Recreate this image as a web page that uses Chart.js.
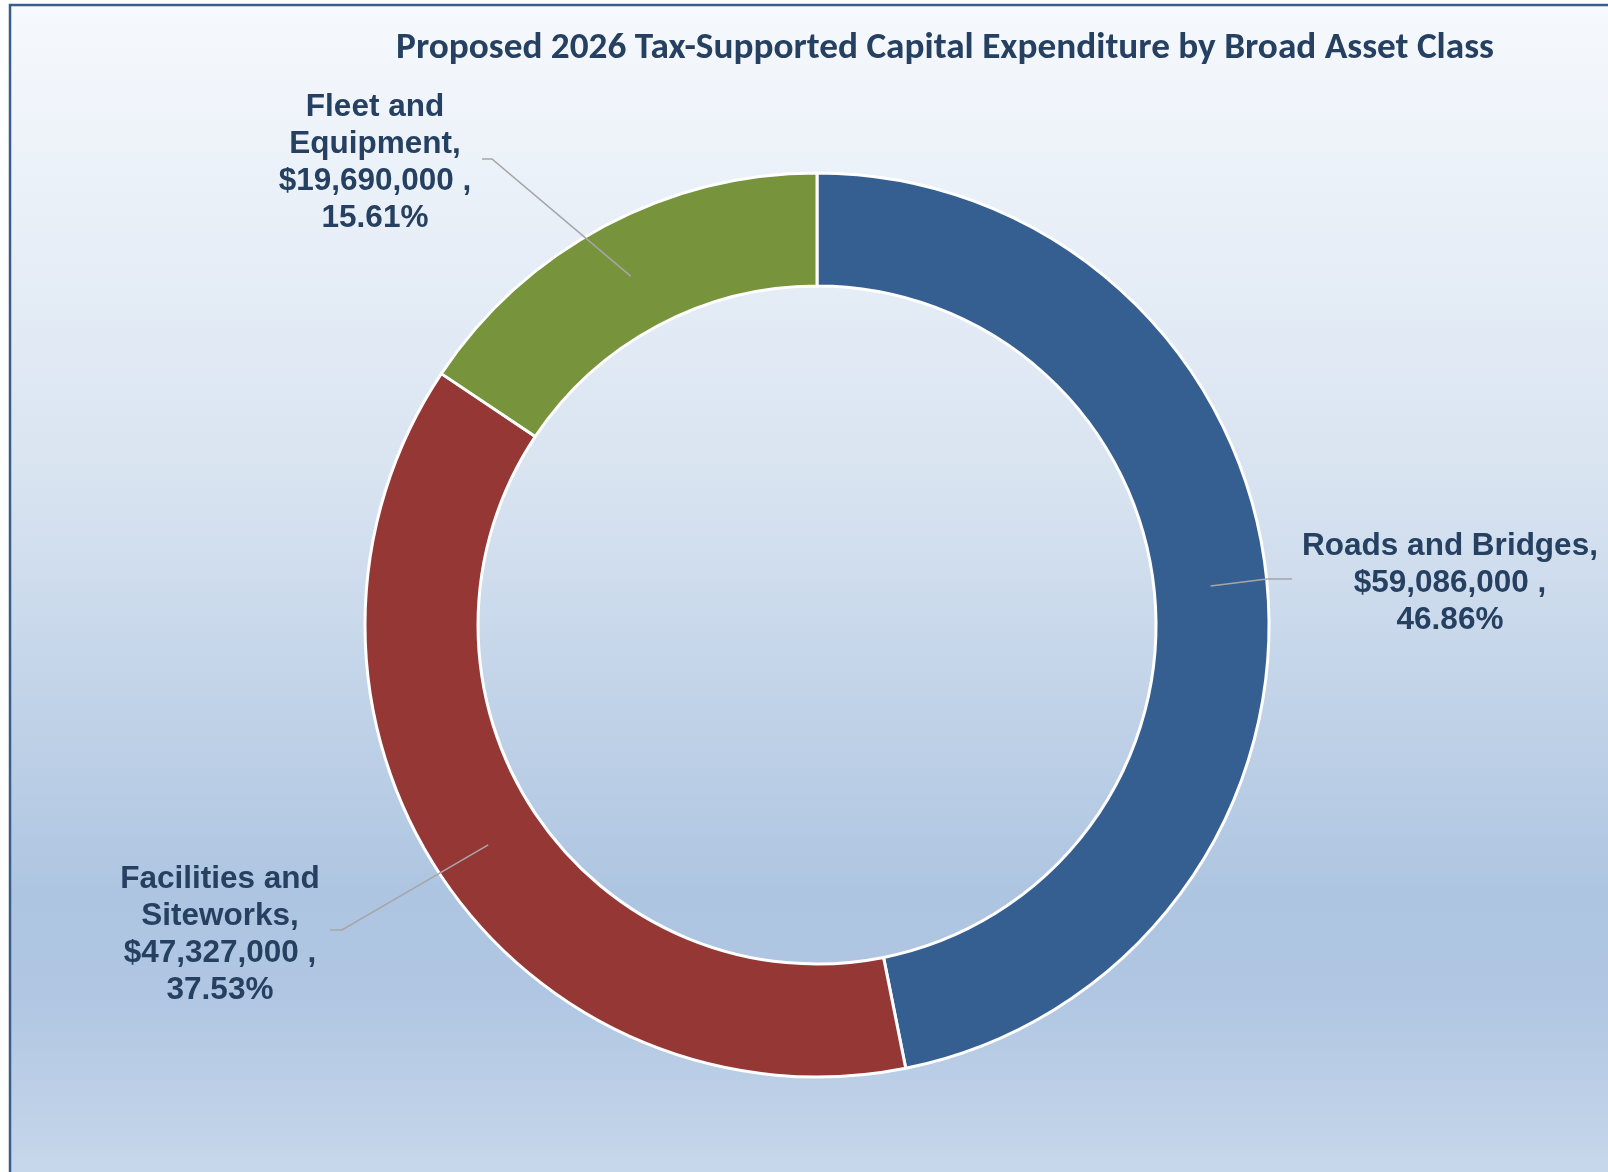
<!DOCTYPE html>
<html>
<head>
<meta charset="utf-8">
<script src="https://cdn.jsdelivr.net/npm/chart.js@4.4.1/dist/chart.umd.min.js"></script>
<style>
  html, body { margin: 0; padding: 0; background: #ffffff; }
  canvas { display: block; }
</style>
</head>
<body>
<canvas id="chart" width="1608" height="1172"></canvas>
<script>
// Asset classes, in drawing order (clockwise from 12 o'clock)
const categories = ['Roads and Bridges', 'Facilities and Siteworks', 'Fleet and Equipment'];
// Label text split over lines, per asset class
const labelLines = [['Roads and Bridges,'], ['Facilities and', 'Siteworks,'], ['Fleet and', 'Equipment,']];
// Proposed 2026 tax-supported capital expenditure ($)
const amounts = [59086000, 47327000, 19690000];
const sliceColors = ['#365F91', '#953735', '#77933C'];

const titleText = 'Proposed 2026 Tax-Supported Capital Expenditure by Broad Asset Class';
const textColor = '#254061';

// Callout layout: elbow of the leader line, its end, and the centre of the text block
const callouts = [
  { elbow: [1267, 579], end: [1292, 579], text: [1450, 583] },
  { elbow: [342, 930],  end: [330, 930],  text: [220, 935] },
  { elbow: [492, 159],  end: [482, 159],  text: [375, 163] }
];

const total = amounts.reduce((a, b) => a + b, 0);
const fmtMoney = v => '$' + v.toLocaleString('en-US') + ' ,';
const fmtPct = v => (v / total * 100).toFixed(2) + '%';

const backdrop = {
  id: 'backdrop',
  beforeDraw(chart) {
    const ctx = chart.ctx;
    const W = chart.width, H = chart.height;
    ctx.save();
    ctx.fillStyle = '#ffffff';
    ctx.fillRect(0, 0, W, H);
    const g = ctx.createLinearGradient(0, 5, 0, 1172);
    g.addColorStop(0, '#F6F9FD');
    g.addColorStop(0.40, '#D9E4F1');
    g.addColorStop(0.76, '#AEC5E1');
    g.addColorStop(0.85, '#B0C6E2');
    g.addColorStop(1, '#C7D7EB');
    ctx.fillStyle = g;
    ctx.fillRect(10, 5, W, H);
    ctx.strokeStyle = '#3A5C88';
    ctx.lineWidth = 2.5;
    ctx.strokeRect(10, 5, W + 20, H + 20);
    ctx.restore();
  }
};

const callout = {
  id: 'callout',
  afterDatasetsDraw(chart) {
    const ctx = chart.ctx;
    const arcs = chart.getDatasetMeta(0).data;
    ctx.save();
    // Title
    ctx.fillStyle = textColor;
    ctx.textAlign = 'center';
    ctx.textBaseline = 'alphabetic';
    ctx.font = 'bold 100px Carlito, Lato, "Open Sans", sans-serif';
    const w100 = ctx.measureText(titleText).width;
    const tSize = 100 * 1098 / w100;
    ctx.font = 'bold ' + tSize.toFixed(2) + 'px Carlito, Lato, "Open Sans", sans-serif';
    ctx.fillText(titleText, 945, 58);

    // Leader lines and data labels
    arcs.forEach((arc, i) => {
      const c = arc.getCenterPoint();
      const p = callouts[i];
      ctx.strokeStyle = '#A6A6A6';
      ctx.lineWidth = 1.6;
      ctx.beginPath();
      ctx.moveTo(c.x, c.y);
      ctx.lineTo(p.elbow[0], p.elbow[1]);
      ctx.lineTo(p.end[0], p.end[1]);
      ctx.stroke();

      const lines = labelLines[i].concat([fmtMoney(amounts[i]), fmtPct(amounts[i])]);
      const lh = 37;
      ctx.font = 'bold 31.5px "Liberation Sans", Arial, sans-serif';
      ctx.fillStyle = textColor;
      ctx.textAlign = 'center';
      ctx.textBaseline = 'middle';
      const y0 = p.text[1] - (lines.length - 1) * lh / 2;
      lines.forEach((ln, k) => ctx.fillText(ln, p.text[0], y0 + k * lh));
    });
    ctx.restore();
  }
};

new Chart(document.getElementById('chart'), {
  type: 'doughnut',
  data: {
    labels: categories,
    datasets: [{
      data: amounts,
      backgroundColor: sliceColors,
      borderColor: '#ffffff',
      borderWidth: 3
    }]
  },
  options: {
    responsive: false,
    animation: false,
    cutout: '75%',
    layout: { padding: { left: 363.5, right: 337.5, top: 171.5, bottom: 93.5 } },
    plugins: {
      legend: { display: false },
      tooltip: { enabled: false },
      title: { display: false }
    }
  },
  plugins: [backdrop, callout]
});
</script>
</body>
</html>
